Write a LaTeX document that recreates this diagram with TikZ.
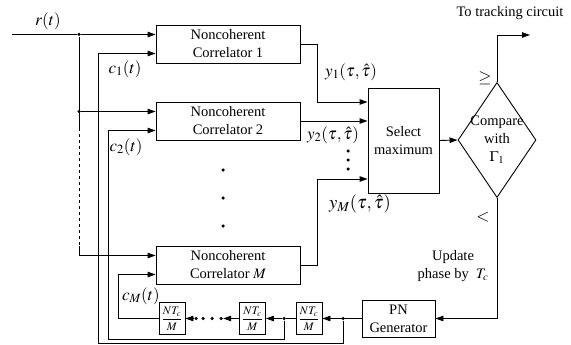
\documentclass[tikz,border=0pt]{standalone}
\usepackage{amsmath}
\usepackage{mathptmx}
\usepackage[no-math]{fontspec}
\setmainfont{Liberation Serif}
\usetikzlibrary{math,arrows.meta,shapes.geometric}

\begin{document}
\begin{tikzpicture}[x=1pt, y=-1pt, line width=0.9pt,
        >={Triangle[length=8pt,width=5.5pt]},
        font=\fontsize{14.5}{18}\selectfont,
        corrbox/.style={draw, minimum width=144pt, minimum height=38pt, inner sep=0pt, align=center},
        delaybox/.style={draw, minimum width=26pt, minimum height=32pt, inner sep=0pt, font=\fontsize{11.5}{13}\selectfont},
        dot/.style={circle, fill, inner sep=0pt, minimum size=3.5pt},
        mlab/.style={inner sep=0pt, font=\fontsize{17}{19}\selectfont}]
            \tikzmath{\xr = 79; \xo = 17; \sh = 9.5;}
            \useasboundingbox (0,0) rectangle (571,345);

            \node[corrbox] (C1) at (228,44) {Noncoherent\\Correlator 1};
            \node[corrbox] (C2) at (228,121) {Noncoherent\\Correlator 2};
            \node[corrbox] (CM) at (228,265) {Noncoherent\\Correlator $M$};
            \node[draw, minimum width=71pt, minimum height=105pt, align=center] (S) at (403.5,140.5) {Select\\maximum};
            \node[draw, diamond, minimum width=78pt, minimum height=115pt, inner sep=0pt] (K) at (497,140) {};
            \node[align=center] (Kt) at (K) {Compare\\with\\$\Gamma_1$};
            \node[draw, minimum width=73pt, minimum height=37pt, align=center] (PN) at (398.5,318.5) {PN\\Generator};
            \node[delaybox] (D3) at (309,318.5) {$\dfrac{NT_c}{M}$};
            \node[delaybox] (D2) at (252.5,318.5) {$\dfrac{NT_c}{M}$};
            \node[delaybox] (D1) at (172,318.5) {$\dfrac{NT_c}{M}$};

            % received signal
            \coordinate (R) at (12,34.5);
            \node[dot] (J1) at (\xr,34.5) {};
            \node[dot] (J2) at (\xr,111.5) {};
            \coordinate (J3) at (\xr,128);
            \coordinate (J4) at (\xr,246);
            \node[mlab] (rl) at (48,21) {$r(t)$};
            \draw (R) -- (J1);
            \draw[->] (J1) -- ([yshift=\sh pt]C1.west);
            \draw (J1) -- (J3);
            \draw[->] (J2) -- ([yshift=\sh pt]C2.west);
            \draw[dashed] (J3) -- (J4);
            \draw[->] (J4) |- ([yshift=\sh pt]CM.west);

            % PN chain
            \node[dot] (P3) at (343,318.5) {};
            \node[dot] (P2) at (284,318.5) {};
            \node[dot] (G1) at (221,318.5) {};
            \node[dot] (G2) at (212,318.5) {};
            \node[dot] (G3) at (203,318.5) {};
            \node[dot] (G4) at (196,318.5) {};
            \draw[->] (PN.west) -- (D3.east);
            \draw (D3.west) -- (P2);
            \draw[->] (P2) -- (D2.east);
            \draw[->] (D2.west) -- (G1);
            \draw[->] (G4) -- (D1.east);

            % codes to the correlators
            \coordinate (B1) at (98,343);
            \coordinate (B2) at (108,339);
            \coordinate (BM) at (118,318.5);
            \draw[->] (P3) |- (B1) |- ([yshift=-\sh pt]C1.west);
            \draw[->] (P2) |- (B2) |- ([yshift=-\sh pt]C2.west);
            \draw[->] (D1.west) -- (BM) |- ([yshift=-\sh pt]CM.west);
            \node[mlab] (c1) at (125,69) {$c_1(t)$};
            \node[mlab] (c2) at (126,147) {$c_2(t)$};
            \node[mlab] (cM) at (141,296) {$c_M(t)$};

            % correlator outputs
            \draw[->] (C1.east) -- ++(\xo,0) |- ([yshift=38.5pt]S.west);
            \draw[->] (C2.east) -- ([yshift=19.5pt]S.west);
            \draw[->] (CM.east) -- ++(\xo,0) |- ([yshift=-38.5pt]S.west);
            \node[mlab] (y1) at (351,72) {$y_1(\tau,\hat{\tau})$};
            \node[mlab] (y2) at (333,135) {$y_2(\tau,\hat{\tau})$};
            \node[mlab, font=\fontsize{18.5}{21}\selectfont] (yM) at (360,204) {$y_M(\tau,\hat{\tau})$};
            \foreach \y in {151,160,169} \node[dot] at (348,\y) {};
            \foreach \y in {170,198,226} \node[dot] at (223,\y) {};

            % decision
            \coordinate (O) at (530,35);
            \draw[->] (S.east) -- (K.west);
            \draw[->] (K.north) |- (O);
            \draw[->] (K.south) |- (PN.east);
            \node (ot) at (510,13) {To tracking circuit};
            \node[mlab] (ge) at (485,78) {$\geq$};
            \node[mlab] (lt) at (483,217) {$<$};
            \node[align=center] (up) at (453,266) {Update\\phase by \ $T_c$};
        \end{tikzpicture}
\end{document}
